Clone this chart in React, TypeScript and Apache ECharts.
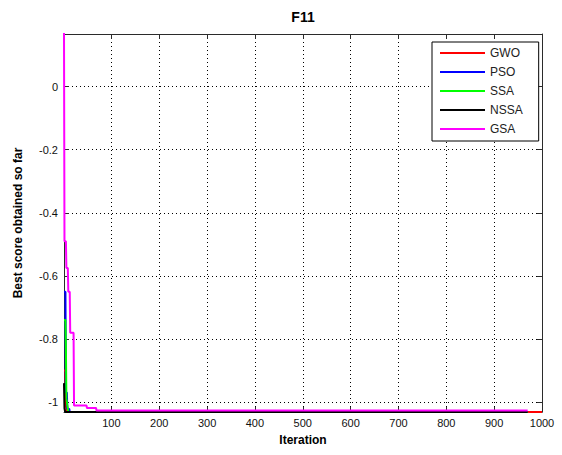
import React, { useEffect, useRef } from "react";
import * as echarts from "echarts";

// Convergence curves: [iteration, best score]
const GWO: number[][] = [[1, -0.9], [4, -0.9], [5, -1.012], [6, -1.022], [7, -1.0316], [1000, -1.0316]];
const PSO: number[][] = [[1, -0.65], [4, -0.65], [5, -0.97], [7, -0.97], [8, -1.022], [12, -1.022], [13, -1.0316], [970, -1.0316]];
const SSA: number[][] = [[1, -0.74], [4, -0.74], [5, -0.83], [6, -0.99], [9, -1.02], [10, -1.0316], [970, -1.0316]];
const NSSA: number[][] = [[1, -0.94], [2, -1.02], [3, -1.028], [4, -1.0316], [970, -1.0316]];
const GSA: number[][] = [[1, 0.17], [2, -0.49], [5, -0.49], [6, -0.575], [9, -0.575], [10, -0.65], [13, -0.65], [14, -0.78], [21, -0.78], [22, -1.011], [48, -1.011], [49, -1.019], [68, -1.019], [69, -1.027], [970, -1.027]];

const seriesNames = ["GWO", "PSO", "SSA", "NSSA", "GSA"];
const seriesColors = ["#ff0000", "#0000ff", "#00ff00", "#000000", "#ff00ff"];
const seriesData = [GWO, PSO, SSA, NSSA, GSA];

const xTicks = [100, 200, 300, 400, 500, 600, 700, 800, 900, 1000];
const yTicks = [-1, -0.8, -0.6, -0.4, -0.2, 0];
const xRange = [1, 1000];
const yRange = [-1.0316, 0.167];

const FONT = "Arial, 'Liberation Sans', Helvetica, sans-serif";
const AXIS_COLOR = "#2b2b2b";

export default function App() {
  const ref = useRef<HTMLDivElement>(null);
  useEffect(() => {
    if (!ref.current) return;
    const chart = echarts.init(ref.current, undefined, { renderer: "svg" });
    const axisLine = { show: true, onZero: false, lineStyle: { color: AXIS_COLOR, width: 1 } };
    const tick = { show: true, inside: true, length: 5, lineStyle: { color: AXIS_COLOR } };
    const grid = { show: true, lineStyle: { color: "#000", width: 1, type: [1, 3] as any } };
    const fmt = (v: number) => String(v);
    chart.setOption({
      animation: false,
      backgroundColor: "#ffffff",
      title: {
        text: "F11",
        left: 303,
        textAlign: "center",
        top: 10,
        padding: 0,
        textStyle: { fontFamily: FONT, fontSize: 14, fontWeight: "bold", color: "#000" },
      },
      legend: {
        data: seriesNames,
        orient: "vertical",
        left: 432,
        top: 42,
        padding: [5, 16, 6, 8],
        itemGap: 7,
        itemWidth: 45,
        itemHeight: 2,
        icon: "rect",
        backgroundColor: "#ffffff",
        borderColor: "#000",
        borderWidth: 1,
        borderRadius: 0,
        textStyle: { fontFamily: FONT, fontSize: 12, color: "#222", padding: [0, 0, 0, 0] },
      },
      grid: { left: 64, right: 20, top: 34, bottom: 43, containLabel: false },
      xAxis: [
        {
          type: "value",
          min: xRange[0],
          max: xRange[1],
          position: "bottom",
          name: "Iteration",
          nameLocation: "middle",
          nameGap: 22,
          nameTextStyle: { fontFamily: FONT, fontSize: 12, fontWeight: "bold", color: "#000" },
          axisLine,
          axisTick: { ...tick, customValues: xTicks },
          axisLabel: { customValues: xTicks, formatter: fmt, fontFamily: FONT, fontSize: 11, color: "#111", margin: 5 },
          splitLine: grid,
        },
        {
          type: "value",
          min: xRange[0],
          max: xRange[1],
          position: "top",
          axisLine,
          axisTick: { ...tick, customValues: xTicks },
          axisLabel: { show: false },
          splitLine: { show: false },
        },
      ],
      yAxis: [
        {
          type: "value",
          min: yRange[0],
          max: yRange[1],
          position: "left",
          name: "Best score obtained so far",
          nameLocation: "middle",
          nameGap: 40,
          nameTextStyle: { fontFamily: FONT, fontSize: 12, fontWeight: "bold", color: "#000" },
          axisLine,
          axisTick: { ...tick, customValues: yTicks },
          axisLabel: { customValues: yTicks, formatter: fmt, fontFamily: FONT, fontSize: 11, color: "#111", margin: 6 },
          splitLine: grid,
        },
        {
          type: "value",
          min: yRange[0],
          max: yRange[1],
          position: "right",
          axisLine,
          axisTick: { ...tick, customValues: yTicks },
          axisLabel: { show: false },
          splitLine: { show: false },
        },
      ],
      series: seriesNames.map((name, i) => ({
        name,
        type: "line",
        xAxisIndex: 0,
        yAxisIndex: 0,
        data: seriesData[i],
        showSymbol: false,
        symbol: "none",
        lineStyle: { color: seriesColors[i], width: 2 },
        itemStyle: { color: seriesColors[i] },
        clip: true,
        z: 2 + i,
      })),
    });
    return () => chart.dispose();
  }, []);
  return (
    <div
      ref={ref}
      style={{ position: "absolute", left: 0, top: 0, width: 562, height: 455, background: "#fff" }}
    />
  );
}
